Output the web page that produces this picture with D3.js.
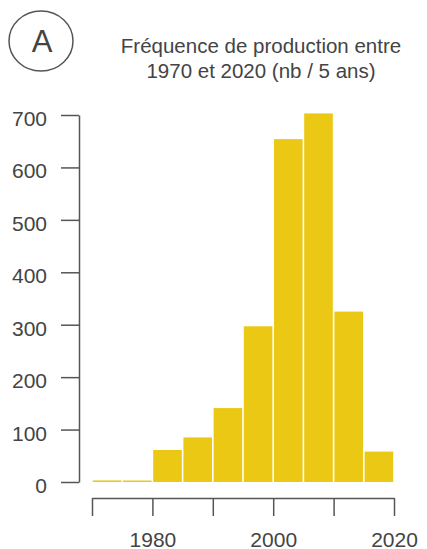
<!DOCTYPE html>
<html><head><meta charset="utf-8">
<script src="https://cdn.jsdelivr.net/npm/d3@7"></script>
<style>html,body{margin:0;padding:0;background:#fff;}</style>
</head><body>
<script>
const binStarts = [1970,1975,1980,1985,1990,1995,2000,2005,2010,2015];
const binWidth = 5;
const counts = [3,2,61,85,141,297,654,703,325,58];
const yTicks = [0,100,200,300,400,500,600,700];
const xTicks = [1970,1980,1990,2000,2010,2020];
const xTickLabels = {1980:"1980",2000:"2000",2020:"2020"};
const titleLines = ["Fréquence de production entre","1970 et 2020 (nb / 5 ans)"];
const panelLabel = "A";

const W=427,H=549;
const font="'Liberation Sans', Arial, Helvetica, sans-serif";
const svg=d3.select("body").append("svg").attr("width",W).attr("height",H);
const x=d3.scaleLinear().domain([1970,2020]).range([92,394]);
const y=d3.scaleLinear().domain([0,700]).range([482,115]);
const gray="#555";

svg.selectAll("rect.bar").data(binStarts).join("rect").attr("class","bar")
 .attr("x",d=>x(d)+0.8).attr("width",d=>x(d+binWidth)-x(d)-1.6)
 .attr("y",(d,i)=>Math.min(y(counts[i]),y(0)-1.5)).attr("height",(d,i)=>Math.max(y(0)-y(counts[i]),1.5))
 .attr("fill","#EAC814");

// y axis
const ya=svg.append("g").attr("transform","translate(79,0)")
 .call(d3.axisLeft(y).tickValues(yTicks).tickSize(18).tickPadding(14).tickSizeOuter(0));
ya.select(".domain").attr("stroke",gray).attr("stroke-width",1.5);
ya.selectAll(".tick line").attr("stroke",gray).attr("stroke-width",1.5);
ya.selectAll(".tick text").attr("font-family",font).attr("font-size",21).attr("fill","#444").attr("dy","0.5em");

// x axis
const xa=svg.append("g").attr("transform","translate(0,498)")
 .call(d3.axisBottom(x).tickValues(xTicks).tickSize(18).tickPadding(16).tickSizeOuter(0)
 .tickFormat(d=>xTickLabels[d]||""));
xa.select(".domain").attr("stroke",gray).attr("stroke-width",1.5);
xa.selectAll(".tick line").attr("stroke",gray).attr("stroke-width",1.5);
xa.selectAll(".tick text").attr("font-family",font).attr("font-size",21).attr("fill","#444").attr("y",48.5).attr("dy",0);

// title
svg.selectAll("text.title").data(titleLines).join("text").attr("class","title")
 .attr("x",261).attr("y",(d,i)=>53+i*25).attr("text-anchor","middle")
 .attr("font-family",font).attr("font-size",20.5).attr("fill","#444").text(d=>d);

// panel label
svg.append("ellipse").attr("cx",41).attr("cy",41).attr("rx",32).attr("ry",30)
 .attr("fill","none").attr("stroke",gray).attr("stroke-width",1.5);
svg.append("text").attr("x",42).attr("y",52).attr("text-anchor","middle")
 .attr("font-family",font).attr("font-size",31).attr("fill","#444").text(panelLabel);
</script>
</body></html>
